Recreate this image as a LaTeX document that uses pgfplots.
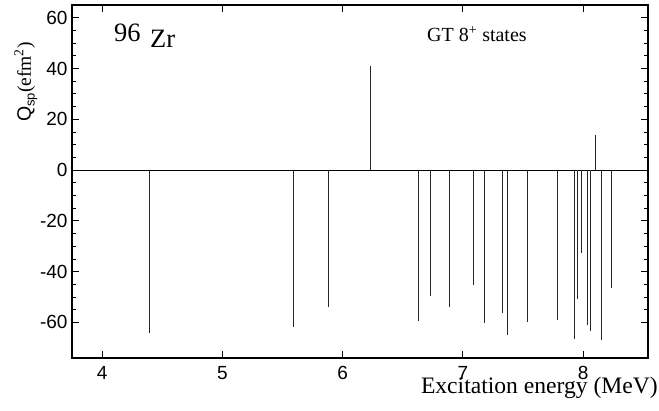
\documentclass[border=0pt]{standalone}
\usepackage{fontspec}
\setmainfont{Liberation Serif}
\newfontfamily\sansf{Liberation Sans}
\usepackage{pgfplots}
\pgfplotsset{compat=1.18}

\begin{document}
\begin{tikzpicture}
% picture is 659 x 410, axis box sits at (72,5)-(648,358) in pixels
\useasboundingbox (-72pt,-52pt) rectangle (587pt,358pt);
\begin{axis}[at={(0,0)}, anchor=south west,
scale only axis,
width=576pt,
height=353pt,
xmin=3.75, xmax=8.54,
ymin=-74, ymax=65,
xtick={4,5,6,7,8},
ytick={-60,-40,-20,0,20,40,60},
minor y tick num=3,
tick align=inside,
major tick length=7pt,
minor tick length=4pt,
axis line style={line width=1.7pt},
tick style={black, line width=0.9pt},
tick label style={font=\sansf\fontsize{19}{19}\selectfont},
/pgf/number format/assume math mode=true,
yticklabel style={xshift=-1pt},
xticklabel style={inner sep=1pt, yshift=-7pt}]
% zero line
\addplot[black, line width=0.9pt] coordinates {(3.75,0) (8.54,0)};
% Q_sp of the GT 8+ states
\addplot[ycomb, black!85, line width=0.9pt, mark=none] coordinates {
(4.390,-64.2)
(5.594,-61.8)
(5.885,-54.0)
(6.234,41.0)
(6.627,-59.5)
(6.735,-49.4)
(6.890,-53.8)
(7.090,-45.1)
(7.179,-60.1)
(7.328,-56.3)
(7.370,-64.8)
(7.541,-60.0)
(7.788,-58.9)
(7.927,-66.5)
(7.954,-50.9)
(7.990,-32.5)
(8.035,-60.9)
(8.060,-63.4)
(8.101,13.8)
(8.154,-67.1)
(8.237,-46.5)
};
\end{axis}
\node[anchor=base west, inner sep=0pt, font=\fontsize{26.5}{26.5}\selectfont] at (42pt,316pt) {96};
\node[anchor=base west, inner sep=0pt, font=\fontsize{26.5}{26.5}\selectfont] at (78pt,310pt) {Zr};
\node[anchor=base west, inner sep=0pt, font=\fontsize{20}{20}\selectfont] at (355pt,316pt) {GT 8\textsuperscript{+} states};
\node[anchor=base east, inner sep=0pt, font=\fontsize{23.6}{23.6}\selectfont] at (586pt,-35pt) {Excitation energy (MeV)};
\node[anchor=base west, inner sep=0pt, rotate=90, font=\fontsize{19.5}{19.5}\selectfont] at (-41pt,236pt)
  {{\sansf Q\raisebox{-0.35ex}{\fontsize{13}{13}\selectfont sp}}(efm\textsuperscript{2})};
\end{tikzpicture}
\end{document}
